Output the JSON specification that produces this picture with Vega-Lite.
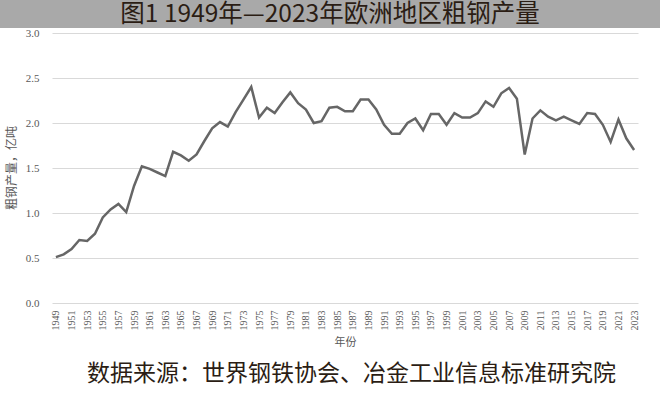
{
  "$schema": "https://vega.github.io/schema/vega-lite/v6.json",
  "autosize": {"type": "pad"},
  "padding": 0,
  "background": "white",
  "spacing": -1,
  "datasets": {
    "steel": [
      {"year": 1949, "value": 0.51}, {"year": 1950, "value": 0.54}, {"year": 1951, "value": 0.60},
      {"year": 1952, "value": 0.70}, {"year": 1953, "value": 0.69}, {"year": 1954, "value": 0.77},
      {"year": 1955, "value": 0.95}, {"year": 1956, "value": 1.04}, {"year": 1957, "value": 1.10},
      {"year": 1958, "value": 1.01}, {"year": 1959, "value": 1.30}, {"year": 1960, "value": 1.52},
      {"year": 1961, "value": 1.49}, {"year": 1962, "value": 1.45}, {"year": 1963, "value": 1.41},
      {"year": 1964, "value": 1.68}, {"year": 1965, "value": 1.64}, {"year": 1966, "value": 1.58},
      {"year": 1967, "value": 1.65}, {"year": 1968, "value": 1.80}, {"year": 1969, "value": 1.94},
      {"year": 1970, "value": 2.01}, {"year": 1971, "value": 1.96}, {"year": 1972, "value": 2.12},
      {"year": 1973, "value": 2.26}, {"year": 1974, "value": 2.40}, {"year": 1975, "value": 2.06},
      {"year": 1976, "value": 2.17}, {"year": 1977, "value": 2.11}, {"year": 1978, "value": 2.23},
      {"year": 1979, "value": 2.34}, {"year": 1980, "value": 2.22}, {"year": 1981, "value": 2.15},
      {"year": 1982, "value": 2.00}, {"year": 1983, "value": 2.02}, {"year": 1984, "value": 2.17},
      {"year": 1985, "value": 2.18}, {"year": 1986, "value": 2.13}, {"year": 1987, "value": 2.13},
      {"year": 1988, "value": 2.26}, {"year": 1989, "value": 2.26}, {"year": 1990, "value": 2.15},
      {"year": 1991, "value": 1.98}, {"year": 1992, "value": 1.88}, {"year": 1993, "value": 1.88},
      {"year": 1994, "value": 2.00}, {"year": 1995, "value": 2.05}, {"year": 1996, "value": 1.92},
      {"year": 1997, "value": 2.10}, {"year": 1998, "value": 2.10}, {"year": 1999, "value": 1.98},
      {"year": 2000, "value": 2.11}, {"year": 2001, "value": 2.06}, {"year": 2002, "value": 2.06},
      {"year": 2003, "value": 2.11}, {"year": 2004, "value": 2.24}, {"year": 2005, "value": 2.18},
      {"year": 2006, "value": 2.33}, {"year": 2007, "value": 2.39}, {"year": 2008, "value": 2.27},
      {"year": 2009, "value": 1.65}, {"year": 2010, "value": 2.05}, {"year": 2011, "value": 2.14},
      {"year": 2012, "value": 2.07}, {"year": 2013, "value": 2.03}, {"year": 2014, "value": 2.07},
      {"year": 2015, "value": 2.03}, {"year": 2016, "value": 1.99}, {"year": 2017, "value": 2.11},
      {"year": 2018, "value": 2.10}, {"year": 2019, "value": 1.98}, {"year": 2020, "value": 1.79},
      {"year": 2021, "value": 2.04}, {"year": 2022, "value": 1.83}, {"year": 2023, "value": 1.70}
    ]
  },
  "vconcat": [
    {
      "width": 660,
      "height": 28,
      "view": {"fill": "#a9a9a9", "stroke": null},
      "data": {"values": [{}]},
      "mark": {
        "type": "text",
        "text": "图1 1949年—2023年欧洲地区粗钢产量",
        "font": "Noto Sans CJK SC",
        "fontSize": 24.5,
        "color": "#2b1d14",
        "align": "center",
        "baseline": "middle",
        "dy": 1
      },
      "encoding": {}
    },
    {
      "spacing": 1,
      "hconcat": [
        {
          "width": 24,
          "height": 270,
          "view": {"stroke": null},
          "data": {"values": [{}]},
          "mark": {
            "type": "text",
            "text": "粗钢产量，亿吨",
            "font": "Noto Sans CJK SC",
            "fontSize": 12,
            "color": "#595959",
            "angle": 270,
            "align": "center",
            "baseline": "middle"
          },
          "encoding": {}
        },
        {
          "width": 586,
          "height": 270,
          "view": {"stroke": null},
          "data": {"name": "steel"},
          "title": {
            "text": "数据来源：世界钢铁协会、冶金工业信息标准研究院",
            "orient": "bottom",
            "anchor": "start",
            "frame": "group",
            "dx": 35,
            "offset": 16,
            "font": "Noto Sans CJK SC",
            "fontSize": 23,
            "fontWeight": "normal",
            "color": "#2b1d14"
          },
          "mark": {"type": "line", "color": "#666666", "strokeWidth": 2.5},
          "encoding": {
            "x": {
              "field": "year",
              "type": "quantitative",
              "scale": {"domain": [1948.5, 2023.5], "nice": false, "zero": false},
              "axis": {
                "values": [1949, 1951, 1953, 1955, 1957, 1959, 1961, 1963, 1965, 1967, 1969, 1971, 1973, 1975, 1977, 1979, 1981, 1983, 1985, 1987, 1989, 1991, 1993, 1995, 1997, 1999, 2001, 2003, 2005, 2007, 2009, 2011, 2013, 2015, 2017, 2019, 2021, 2023],
                "format": "d",
                "labelAngle": 270,
                "labelFont": "Liberation Serif",
                "labelFontSize": 10,
                "labelColor": "#595959",
                "labelPadding": 7,
                "grid": false,
                "ticks": false,
                "domain": false,
                "title": "年份",
                "titleFont": "Noto Sans CJK SC",
                "titleFontSize": 11,
                "titleFontWeight": "normal",
                "titleColor": "#595959",
                "titlePadding": 6
              }
            },
            "y": {
              "field": "value",
              "type": "quantitative",
              "scale": {"domain": [0, 3], "nice": false},
              "axis": {
                "values": [0, 0.5, 1, 1.5, 2, 2.5, 3],
                "format": ".1f",
                "labelFont": "Liberation Serif",
                "labelFontSize": 11,
                "labelColor": "#595959",
                "labelPadding": 13,
                "grid": true,
                "gridColor": "#d9d9d9",
                "gridWidth": 1,
                "ticks": false,
                "domain": false,
                "title": null
              }
            }
          }
        }
      ]
    }
  ]
}
